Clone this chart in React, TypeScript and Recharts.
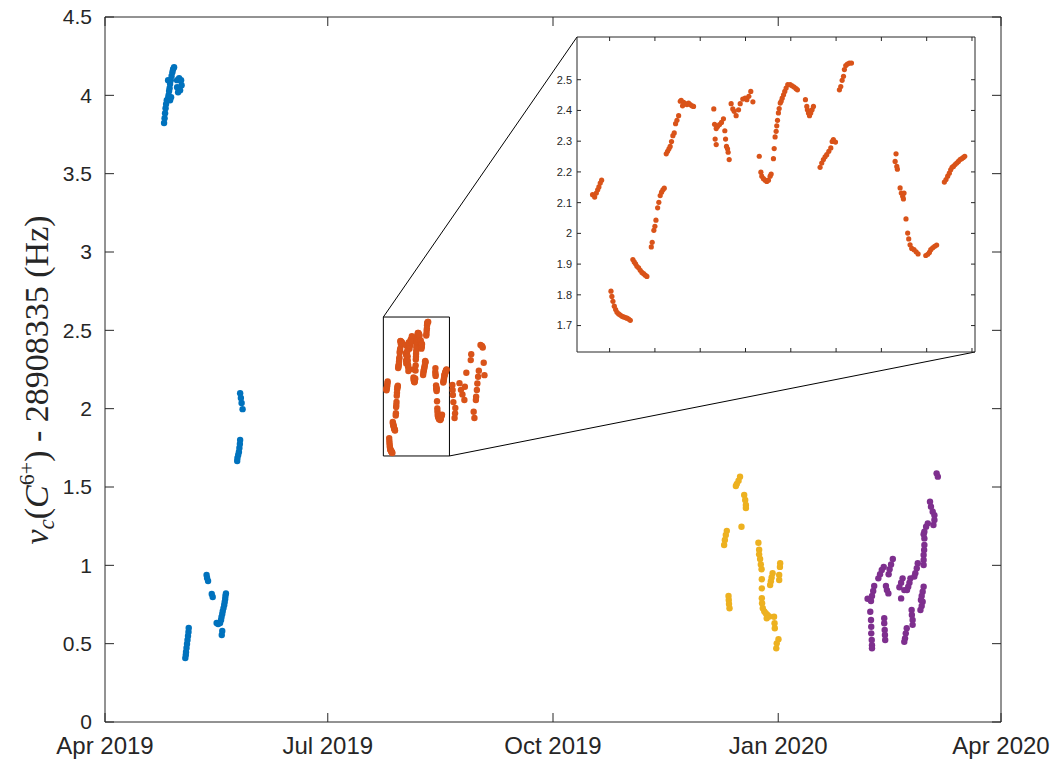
import React from 'react';
import { ScatterChart, Scatter, XAxis, YAxis, ReferenceArea, ReferenceLine } from 'recharts';

type Pt = [number, number];

// x: days since 1 Apr 2019, y: cyclotron frequency offset (Hz)
const blueRun: Pt[] = [
  [24.13, 3.823], [24.34, 3.854], [24.54, 3.886], [24.74, 3.918], [24.95, 3.944], [25.24, 3.969],
  [25.77, 3.982], [26.58, 3.969], [26.99, 3.988], [25.97, 4.001], [26.18, 4.027], [26.38, 4.046],
  [26.58, 4.072], [26.87, 4.097], [27.2, 4.123], [27.53, 4.148], [27.81, 4.167], [28.22, 4.18],
  [25.77, 4.097], [29.45, 4.097], [30.27, 4.11], [31.08, 4.097], [31.29, 4.065], [30.67, 4.033],
  [29.86, 4.02], [29.45, 4.052],
  [32.8, 0.408], [33.0, 0.428], [33.1, 0.447], [33.3, 0.472], [33.5, 0.498], [33.7, 0.523],
  [33.9, 0.549], [34.1, 0.574], [34.2, 0.6],
  [41.5, 0.938], [41.7, 0.919], [42.1, 0.9], [43.6, 0.817], [44.0, 0.798],
  [45.6, 0.632], [46.2, 0.625], [47.0, 0.632], [47.4, 0.651], [47.6, 0.67], [47.9, 0.689],
  [48.1, 0.708], [48.4, 0.727], [48.7, 0.747], [48.9, 0.766], [49.1, 0.785], [49.2, 0.804],
  [49.4, 0.821], [47.9, 0.581], [47.7, 0.555],
  [54.0, 1.666], [54.1, 1.685], [54.4, 1.704], [54.7, 1.723], [54.9, 1.749], [55.1, 1.774], [55.2, 1.8],
  [55.2, 2.099], [55.5, 2.068], [55.8, 2.036], [56.2, 1.997],
];

const orangeRun: Pt[] = [
  [114.87, 2.126], [115.01, 2.118], [115.12, 2.131], [115.21, 2.142], [115.29, 2.151], [115.38, 2.164], [115.47, 2.173],
  [116.09, 1.812], [116.15, 1.795], [116.22, 1.779], [116.31, 1.763], [116.4, 1.752], [116.49, 1.743], [116.6, 1.738],
  [116.71, 1.734], [116.82, 1.73], [116.93, 1.728], [117.04, 1.726], [117.15, 1.724], [117.26, 1.721], [117.37, 1.717],
  [117.54, 1.915], [117.63, 1.907], [117.72, 1.901], [117.81, 1.893], [117.92, 1.888], [118.03, 1.88], [118.14, 1.873],
  [118.25, 1.869], [118.36, 1.864], [118.47, 1.86],
  [118.76, 1.956], [118.82, 1.971], [118.93, 2.01], [119.0, 2.023], [119.07, 2.043], [119.18, 2.083], [119.26, 2.101],
  [119.35, 2.123], [119.44, 2.134], [119.53, 2.142], [119.62, 2.147],
  [119.75, 2.259], [119.84, 2.267], [119.93, 2.275], [120.01, 2.283], [120.1, 2.299], [120.19, 2.318], [120.28, 2.327],
  [120.37, 2.357], [120.46, 2.368], [120.57, 2.383], [120.68, 2.43], [120.74, 2.433], [120.83, 2.415], [120.9, 2.426],
  [121.01, 2.422], [121.12, 2.419], [121.23, 2.424], [121.34, 2.419], [121.45, 2.415], [121.56, 2.413],
  [122.9, 2.405], [122.95, 2.355], [122.99, 2.307], [123.06, 2.289], [123.06, 2.341], [123.15, 2.348], [123.28, 2.354],
  [123.41, 2.361], [123.54, 2.373], [123.63, 2.334], [123.68, 2.307], [123.74, 2.283], [123.81, 2.275], [123.85, 2.264],
  [123.92, 2.24],
  [124.05, 2.422], [124.16, 2.405], [124.25, 2.397], [124.38, 2.383], [124.54, 2.402], [124.65, 2.422], [124.82, 2.437],
  [124.98, 2.44], [125.09, 2.435], [125.22, 2.446], [125.35, 2.462], [125.49, 2.428],
  [125.91, 2.251], [126.02, 2.199], [126.08, 2.186], [126.19, 2.178], [126.3, 2.173], [126.41, 2.169], [126.52, 2.173],
  [126.63, 2.186], [126.7, 2.193], [126.85, 2.243], [126.9, 2.276], [126.96, 2.314], [127.03, 2.332], [127.07, 2.35],
  [127.12, 2.368], [127.18, 2.392], [127.23, 2.406], [127.3, 2.424], [127.36, 2.43], [127.43, 2.44], [127.52, 2.451],
  [127.6, 2.462], [127.69, 2.473], [127.8, 2.484], [127.96, 2.484], [128.09, 2.48], [128.22, 2.476], [128.35, 2.471],
  [128.44, 2.467],
  [128.97, 2.435], [129.06, 2.413], [129.1, 2.402], [129.17, 2.392], [129.24, 2.383], [129.32, 2.392], [129.41, 2.402],
  [129.5, 2.413],
  [129.94, 2.215], [130.05, 2.229], [130.16, 2.24], [130.27, 2.249], [130.38, 2.256], [130.52, 2.267], [130.65, 2.278],
  [130.74, 2.299], [130.82, 2.305], [130.96, 2.297],
  [131.22, 2.467], [131.31, 2.478], [131.4, 2.498], [131.49, 2.511], [131.55, 2.533], [131.64, 2.546], [131.75, 2.551],
  [131.88, 2.554], [132.02, 2.554],
  [134.97, 2.259], [134.91, 2.234], [135.02, 2.218], [135.06, 2.209], [135.24, 2.148], [135.32, 2.131], [135.41, 2.121],
  [135.46, 2.112], [135.5, 2.131], [135.63, 2.047], [135.74, 2.001], [135.81, 1.982], [135.9, 1.963], [136.01, 1.951],
  [136.16, 1.947], [136.3, 1.94], [136.43, 1.933],
  [136.94, 1.928], [137.07, 1.932], [137.18, 1.938], [137.27, 1.947], [137.4, 1.953], [137.53, 1.958], [137.66, 1.962],
  [138.17, 2.167], [138.28, 2.175], [138.39, 2.186], [138.5, 2.196], [138.59, 2.207], [138.68, 2.215], [138.77, 2.218],
  [138.88, 2.224], [138.99, 2.229], [139.1, 2.234], [139.21, 2.24], [139.32, 2.243], [139.43, 2.247], [139.52, 2.251],
  [141.9, 2.151], [142.0, 2.119], [142.1, 2.087], [142.3, 2.042], [143.1, 2.004], [143.0, 1.97], [142.8, 1.94],
  [144.8, 2.163], [145.4, 2.12], [146.0, 2.09], [146.8, 2.055], [147.0, 2.14], [147.6, 2.229],
  [149.6, 2.348], [149.4, 2.31], [153.4, 2.406], [154.0, 2.4], [154.3, 2.39], [154.7, 2.293], [155.0, 2.214],
  [152.7, 2.242], [152.4, 2.204], [152.1, 2.161], [151.9, 2.119], [151.6, 2.076], [151.5, 2.055],
  [150.6, 1.98], [150.9, 1.94],
];

const yellowRun: Pt[] = [
  [259.4, 1.565], [258.8, 1.54], [258.1, 1.52], [257.7, 1.506],
  [261.1, 1.449], [261.5, 1.417], [261.8, 1.385], [261.8, 1.366], [260.0, 1.246],
  [254.0, 1.22], [253.6, 1.194], [253.2, 1.162], [252.9, 1.13],
  [266.9, 1.144], [267.2, 1.1], [267.2, 1.07], [267.6, 1.04], [267.9, 1.006], [268.2, 0.975],
  [268.3, 0.911], [268.3, 0.853],
  [275.8, 1.013], [275.7, 0.99], [272.7, 0.949], [272.3, 0.923], [272.0, 0.898], [271.7, 0.874],
  [275.4, 0.938], [275.4, 0.906],
  [254.7, 0.804], [254.8, 0.779], [254.9, 0.753], [255.1, 0.726],
  [268.3, 0.79], [268.4, 0.758], [268.7, 0.726], [269.3, 0.705], [269.9, 0.694], [270.6, 0.683],
  [271.3, 0.673], [270.3, 0.662],
  [273.3, 0.672], [273.5, 0.63], [273.6, 0.598], [275.1, 0.528], [274.4, 0.502], [274.2, 0.47],
];

const purpleRun: Pt[] = [
  [339.7, 1.587], [340.2, 1.566],
  [337.0, 1.406], [337.4, 1.374], [338.1, 1.342], [338.8, 1.32], [338.8, 1.29], [338.4, 1.257],
  [336.1, 1.268], [335.4, 1.247], [334.7, 1.215], [334.4, 1.199], [334.7, 1.172], [334.7, 1.13],
  [334.6, 1.098], [334.4, 1.066], [334.4, 1.034], [334.4, 1.002],
  [321.8, 1.04], [321.1, 1.006], [320.5, 0.975], [320.1, 0.943],
  [318.1, 0.99], [317.3, 0.97], [316.6, 0.943], [315.9, 0.917],
  [332.0, 1.013], [331.6, 0.981], [331.0, 0.949], [330.6, 0.928],
  [329.0, 0.917], [328.6, 0.889], [328.1, 0.864], [327.6, 0.842],
  [325.8, 0.917], [325.2, 0.889], [324.5, 0.86], [326.5, 0.842], [325.2, 0.789],
  [319.0, 0.868], [319.4, 0.842], [320.0, 0.821],
  [314.2, 0.868], [313.8, 0.836], [313.3, 0.804], [312.9, 0.772], [311.5, 0.787],
  [334.4, 0.864], [334.0, 0.832], [333.6, 0.804], [333.3, 0.779],
  [334.0, 0.768], [333.6, 0.74], [333.1, 0.715],
  [329.5, 0.715], [329.6, 0.683], [329.9, 0.651], [329.9, 0.62],
  [312.6, 0.704], [312.9, 0.651], [313.0, 0.608], [313.0, 0.566], [313.2, 0.523], [313.3, 0.49], [313.3, 0.47],
  [318.3, 0.662], [318.3, 0.63], [318.5, 0.587], [318.6, 0.555], [318.7, 0.523],
  [327.5, 0.598], [327.1, 0.566], [326.8, 0.534], [326.5, 0.512],
];

const dateTicks = [0, 91, 183, 275, 366];
const dateLabels = ['Apr 2019', 'Jul 2019', 'Oct 2019', 'Jan 2020', 'Apr 2020'];
const mainYTicks = [0, 0.5, 1, 1.5, 2, 2.5, 3, 3.5, 4, 4.5];
const insetXTicks = [116, 119, 122, 125, 128, 131, 134, 137, 140];
const insetYTicks = [1.7, 1.8, 1.9, 2, 2.1, 2.2, 2.3, 2.4, 2.5];

const zoomBox = { x1: 113.7, x2: 140.7, y1: 1.698, y2: 2.585 };
const insetX: [number, number] = [113.84, 140.2];
const insetY: [number, number] = [1.614, 2.639];

const AX = '#262626';
const SANS = "'Liberation Sans', Arial, Helvetica, sans-serif";
const SERIF = "'Liberation Serif', 'DejaVu Serif', 'Times New Roman', serif";

// plot boxes in page pixels
const MAIN = { left: 105, right: 1001, top: 17, bottom: 722 };
const INSET = { left: 577, right: 975, top: 37, bottom: 352 };

const toRows = (pts: Pt[]) => pts.map(([x, y]) => ({ x, y }));
const toMain = (px: number, py: number) => ({
  x: ((px - MAIN.left) / (MAIN.right - MAIN.left)) * 366,
  y: ((MAIN.bottom - py) / (MAIN.bottom - MAIN.top)) * 4.5,
});

const dot = (r: number, fill: string) => (p: any) =>
  p.cx == null ? <g /> : <circle cx={p.cx} cy={p.cy} r={r} fill={fill} />;

function YLabel() {
  const cx = 48;
  const cy = 380;
  return (
    <text
      x={cx}
      y={cy}
      transform={`rotate(-90 ${cx} ${cy})`}
      textAnchor="middle"
      fontFamily={SERIF}
      fontSize={34}
      fill={AX}
    >
      <tspan fontStyle="italic">ν</tspan>
      <tspan fontStyle="italic" fontSize={23} dy={6}>c</tspan>
      <tspan dy={-6}>(</tspan>
      <tspan fontStyle="italic">C</tspan>
      <tspan fontSize={22} dy={-14}>6+</tspan>
      <tspan dy={14}>) - 28908335 (Hz)</tspan>
    </text>
  );
}

export default function App() {
  const blue = toRows(blueRun);
  const orange = toRows(orangeRun);
  const yellow = toRows(yellowRun);
  const purple = toRows(purpleRun);
  const insetRows = orange.filter(
    (d) => d.x >= insetX[0] && d.x <= insetX[1] && d.y >= insetY[0] && d.y <= insetY[1],
  );
  const tl = toMain(INSET.left, INSET.top);
  const br = toMain(INSET.right, INSET.bottom);

  return (
    <div style={{ position: 'absolute', left: 0, top: 0, width: 1056, height: 769, background: '#fff' }}>
      <ScatterChart width={1056} height={769} margin={{ top: 16, right: 54, bottom: 7, left: 10 }}>
        <XAxis
          xAxisId="b"
          type="number"
          dataKey="x"
          domain={[0, 366]}
          ticks={dateTicks}
          interval={0}
          allowDataOverflow
          tickFormatter={(v) => dateLabels[dateTicks.indexOf(v)] ?? ''}
          height={40}
          tickSize={-9}
          tickMargin={24}
          stroke={AX}
          tick={{ fill: AX, fontSize: 24, fontFamily: SANS }}
        />
        <XAxis
          xAxisId="t"
          orientation="top"
          type="number"
          dataKey="x"
          domain={[0, 366]}
          ticks={dateTicks}
          interval={0}
          allowDataOverflow
          tickFormatter={() => ''}
          height={1}
          tickSize={-9}
          stroke={AX}
        />
        <YAxis
          yAxisId="l"
          type="number"
          dataKey="y"
          domain={[0, 4.5]}
          ticks={mainYTicks}
          interval={0}
          allowDataOverflow
          width={95}
          tickSize={-9}
          tickMargin={22}
          stroke={AX}
          tick={{ fill: AX, fontSize: 21, fontFamily: SANS }}
          label={<YLabel />}
        />
        <YAxis
          yAxisId="r"
          orientation="right"
          type="number"
          dataKey="y"
          domain={[0, 4.5]}
          ticks={mainYTicks}
          interval={0}
          allowDataOverflow
          width={1}
          tickSize={-9}
          tickFormatter={() => ''}
          stroke={AX}
        />
        <Scatter xAxisId="b" yAxisId="l" data={blue} shape={dot(3.2, '#0072BD')} isAnimationActive={false} />
        <Scatter xAxisId="b" yAxisId="l" data={orange} shape={dot(3.2, '#D95319')} isAnimationActive={false} />
        <Scatter xAxisId="b" yAxisId="l" data={yellow} shape={dot(3.2, '#EDB120')} isAnimationActive={false} />
        <Scatter xAxisId="b" yAxisId="l" data={purple} shape={dot(3.2, '#7E2F8E')} isAnimationActive={false} />
        <ReferenceArea
          xAxisId="b"
          yAxisId="l"
          x1={zoomBox.x1}
          x2={zoomBox.x2}
          y1={zoomBox.y1}
          y2={zoomBox.y2}
          fill="none"
          fillOpacity={0}
          stroke="#000"
          strokeWidth={1}
          ifOverflow="visible"
        />
        <ReferenceLine
          xAxisId="b"
          yAxisId="l"
          segment={[{ x: zoomBox.x1, y: zoomBox.y2 }, tl]}
          stroke="#000"
          strokeWidth={1}
          ifOverflow="visible"
        />
        <ReferenceLine
          xAxisId="b"
          yAxisId="l"
          segment={[{ x: zoomBox.x2, y: zoomBox.y1 }, br]}
          stroke="#000"
          strokeWidth={1}
          ifOverflow="visible"
        />
      </ScatterChart>

      <div style={{ position: 'absolute', left: INSET.left - 40, top: INSET.top - 7 }}>
        <ScatterChart width={445} height={330} margin={{ top: 6, right: 6, bottom: 7, left: 0 }}>
          <XAxis
            xAxisId="b"
            type="number"
            dataKey="x"
            domain={insetX}
            ticks={insetXTicks}
            interval={0}
            allowDataOverflow
            tickFormatter={() => ''}
            height={1}
            tickSize={-4}
            stroke={AX}
          />
          <XAxis
            xAxisId="t"
            orientation="top"
            type="number"
            dataKey="x"
            domain={insetX}
            ticks={insetXTicks}
            interval={0}
            allowDataOverflow
            tickFormatter={() => ''}
            height={1}
            tickSize={-4}
            stroke={AX}
          />
          <YAxis
            yAxisId="l"
            type="number"
            dataKey="y"
            domain={insetY}
            ticks={insetYTicks}
            interval={0}
            allowDataOverflow
            width={40}
            tickSize={-4}
            tickMargin={9}
            tickFormatter={(v) => String(Math.round(v * 10) / 10)}
            stroke={AX}
            tick={{ fill: AX, fontSize: 11, fontFamily: SANS }}
          />
          <YAxis
            yAxisId="r"
            orientation="right"
            type="number"
            dataKey="y"
            domain={insetY}
            ticks={insetYTicks}
            interval={0}
            allowDataOverflow
            width={1}
            tickSize={-4}
            tickFormatter={() => ''}
            stroke={AX}
          />
          <Scatter xAxisId="b" yAxisId="l" data={insetRows} shape={dot(2.6, '#D95319')} isAnimationActive={false} />
        </ScatterChart>
      </div>
    </div>
  );
}
